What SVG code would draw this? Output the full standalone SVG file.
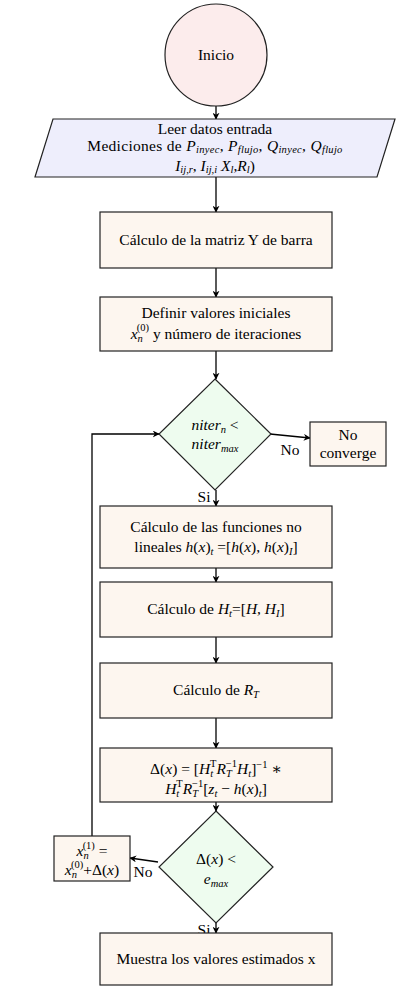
<svg xmlns="http://www.w3.org/2000/svg" width="400" height="991" viewBox="0 0 400 991">
<defs>
<marker id="arr" viewBox="0 0 10 10" refX="9" refY="5" markerWidth="7" markerHeight="7" orient="auto" markerUnits="userSpaceOnUse">
<path d="M0,0 L10,5 L0,10 L3,5 Z" fill="#000"/>
</marker>
<style>
text{font-family:"Liberation Serif","DejaVu Serif",serif;font-size:15.5px;fill:#000;text-anchor:middle}
.i{font-style:italic}
.s{font-size:10.5px;font-style:italic}
.u{font-size:10.5px}
.box{fill:#fdf6ef;stroke:#222;stroke-width:1.2}
.dia{fill:#eefcef;stroke:#222;stroke-width:1.2}
.edge{stroke:#000;stroke-width:1.3;fill:none;marker-end:url(#arr)}
</style>
</defs>
<rect width="400" height="991" fill="#fff"/>
<g id="connectors">
<path class="edge" d="M216,106 L216,119"/>
<path class="edge" d="M216,177 L216,212"/>
<path class="edge" d="M216,268 L216,297"/>
<path class="edge" d="M216,351 L216,379"/>
<path class="edge" d="M270,434 L310,438"/>
<path class="edge" d="M216,490 L216,506"/>
<path class="edge" d="M216,568 L216,582"/>
<path class="edge" d="M216,637 L216,663"/>
<path class="edge" d="M216,718 L216,748"/>
<path class="edge" d="M216,802 L216,811"/>
<path class="edge" d="M158,862 L130,858"/>
<path class="edge" d="M216,923 L216,933"/>
<path class="edge" d="M92,836 L92,434 L159,434"/>
<text x="290" y="455">No</text>
<text x="204" y="502">Si</text>
<text x="143" y="877">No</text>
<text x="204" y="935">Si</text>
</g>
<g id="inicio">
<circle cx="216" cy="55" r="51" fill="#fcecec" stroke="#222" stroke-width="1.2"/>
<text x="216" y="60">Inicio</text>
</g>
<g id="leer">
<path d="M53,119 L395,119 L377,177 L35,177 Z" fill="#eeeefc" stroke="#222" stroke-width="1.2"/>
<text x="215" y="134">Leer datos entrada</text>
<text x="215" y="151" letter-spacing="0.3">Mediciones de <tspan class="i">P</tspan><tspan class="s" dy="2">inyec</tspan><tspan dy="-2">, </tspan><tspan class="i">P</tspan><tspan class="s" dy="2">flujo</tspan><tspan dy="-2">, </tspan><tspan class="i">Q</tspan><tspan class="s" dy="2">inyec</tspan><tspan dy="-2">, </tspan><tspan class="i">Q</tspan><tspan class="s" dy="2">flujo</tspan></text>
<text x="215" y="171"><tspan class="i">I</tspan><tspan class="s" dy="2">ij,r</tspan><tspan dy="-2">, </tspan><tspan class="i">I</tspan><tspan class="s" dy="2">ij,i</tspan><tspan class="i" dy="-2"> X</tspan><tspan class="s" dy="2">l</tspan><tspan dy="-2">,</tspan><tspan class="i">R</tspan><tspan class="s" dy="2">l</tspan><tspan dy="-2">)</tspan></text>
</g>
<g id="ybarra">
<rect class="box" x="100" y="212" width="232" height="56"/>
<text x="216" y="245">Cálculo de la matriz Y de barra</text>
</g>
<g id="iniciales">
<rect class="box" x="100" y="297" width="232" height="54"/>
<text x="216" y="318">Definir valores iniciales</text>
<text x="216" y="339"><tspan class="i">x</tspan><tspan class="s" dy="3">n</tspan><tspan class="u" dx="-6" dy="-11">(0)</tspan><tspan dy="8"> y número de iteraciones</tspan></text>
</g>
<g id="cond1">
<path class="dia" d="M215,379 L271,434 L215,490 L159,434 Z"/>
<text x="215" y="430"><tspan class="i">niter</tspan><tspan class="s" dy="3">n</tspan><tspan dy="-3"> &lt;</tspan></text>
<text x="215" y="449"><tspan class="i">niter</tspan><tspan class="s" dy="3">max</tspan></text>
</g>
<g id="noconverge">
<rect class="box" x="310" y="422" width="76" height="44"/>
<text x="348" y="440">No</text>
<text x="348" y="458">converge</text>
</g>
<g id="funciones">
<rect class="box" x="100" y="506" width="232" height="62"/>
<text x="216" y="532">Cálculo de las funciones no</text>
<text x="216" y="552">lineales <tspan class="i">h</tspan>(<tspan class="i">x</tspan>)<tspan class="s" dy="3">t</tspan><tspan dy="-3"> =[</tspan><tspan class="i">h</tspan>(<tspan class="i">x</tspan>), <tspan class="i">h</tspan>(<tspan class="i">x</tspan>)<tspan class="s" dy="3">I</tspan><tspan dy="-3">]</tspan></text>
</g>
<g id="Ht">
<rect class="box" x="100" y="582" width="232" height="55"/>
<text x="216" y="614">Cálculo de <tspan class="i">H</tspan><tspan class="s" dy="3">t</tspan><tspan dy="-3">=[</tspan><tspan class="i">H, H</tspan><tspan class="s" dy="3">I</tspan><tspan dy="-3">]</tspan></text>
</g>
<g id="RT">
<rect class="box" x="100" y="663" width="232" height="55"/>
<text x="216" y="695">Cálculo de <tspan class="i">R</tspan><tspan class="s" dy="3">T</tspan></text>
</g>
<g id="delta">
<rect class="box" x="100" y="748" width="232" height="54"/>
<text x="216" y="774">Δ(<tspan class="i">x</tspan>)  =  [<tspan class="i">H</tspan><tspan class="s" dy="3">t</tspan><tspan class="u" dx="-3" dy="-10">T</tspan><tspan class="i" dy="7">R</tspan><tspan class="s" dy="3">T</tspan><tspan class="u" dx="-6" dy="-10">−1</tspan><tspan class="i" dy="7">H</tspan><tspan class="s" dy="3">t</tspan><tspan dy="-3">]</tspan><tspan class="u" dy="-6">−1</tspan><tspan dy="6">  ∗</tspan></text>
<text x="216" y="794"><tspan class="i">H</tspan><tspan class="s" dy="3">t</tspan><tspan class="u" dx="-3" dy="-10">T</tspan><tspan class="i" dy="7">R</tspan><tspan class="s" dy="3">T</tspan><tspan class="u" dx="-6" dy="-10">−1</tspan><tspan dy="7">[</tspan><tspan class="i">z</tspan><tspan class="s" dy="3">t</tspan><tspan dy="-3"> − </tspan><tspan class="i">h</tspan>(<tspan class="i">x</tspan>)<tspan class="s" dy="3">t</tspan><tspan dy="-3">]</tspan></text>
</g>
<g id="cond2">
<path class="dia" d="M216,811 L273,867 L216,923 L159,867 Z"/>
<text x="216" y="864">Δ(<tspan class="i">x</tspan>) &lt;</text>
<text x="216" y="884"><tspan class="i">e</tspan><tspan class="s" dy="3">max</tspan></text>
</g>
<g id="update">
<rect class="box" x="54" y="836" width="76" height="45"/>
<text x="92" y="856"><tspan class="i">x</tspan><tspan class="s" dy="3">n</tspan><tspan class="u" dx="-6" dy="-10">(1)</tspan><tspan dy="7"> =</tspan></text>
<text x="92" y="875"><tspan class="i">x</tspan><tspan class="s" dy="3">n</tspan><tspan class="u" dx="-6" dy="-10">(0)</tspan><tspan dy="7">+Δ(</tspan><tspan class="i">x</tspan>)</text>
</g>
<g id="muestra">
<rect class="box" x="100" y="933" width="232" height="52"/>
<text x="216" y="964">Muestra los valores estimados x</text>
</g>
</svg>
